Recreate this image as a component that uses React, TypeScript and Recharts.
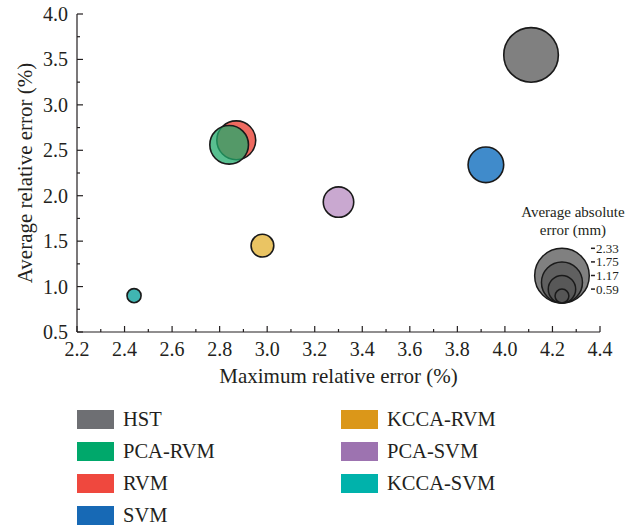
import { Scatter, ScatterChart, XAxis, YAxis, ZAxis } from "recharts";

const FONT = "'Liberation Serif', 'DejaVu Serif', serif";
const INK = "#231f20";

// methods, in legend order
const methods = ["HST", "PCA-RVM", "RVM", "SVM", "KCCA-RVM", "PCA-SVM", "KCCA-SVM"];
const maxRelError = [4.11, 2.84, 2.87, 3.92, 2.98, 3.3, 2.44];
const avgRelError = [3.55, 2.56, 2.61, 2.34, 1.45, 1.93, 0.9];
const avgAbsError = [2.33, 1.65, 1.66, 1.52, 0.97, 1.3, 0.6];

const legendColors = ["#6e6f73", "#00a86b", "#ef483e", "#1769b5", "#db9719", "#9d73b0", "#00b2ab"];
const bubbleColors = ["#555555", "#20a96b", "#e8382b", "#0064b9", "#e3b02f", "#b78bc0", "#009c98"];

// red is drawn under the green one
const drawOrder = ["HST", "RVM", "PCA-RVM", "SVM", "KCCA-RVM", "PCA-SVM", "KCCA-SVM"];

// size key
const sizeKeyValues = [2.33, 1.75, 1.17, 0.59];
const sizeKeyX = 4.24;
const sizeKeyBottom = 0.82;

const xMajor = [2.2, 2.4, 2.6, 2.8, 3.0, 3.2, 3.4, 3.6, 3.8, 4.0, 4.2, 4.4];
const xMinor = [2.3, 2.5, 2.7, 2.9, 3.1, 3.3, 3.5, 3.7, 3.9, 4.1, 4.3];
const yMajor = [0.5, 1.0, 1.5, 2.0, 2.5, 3.0, 3.5, 4.0];
const yMinor = [0.75, 1.25, 1.75, 2.25, 2.75, 3.25, 3.75];

const TICK_GAP = 9;
const isMajor = (list: number[], v: number) => list.some((m) => Math.abs(m - v) < 1e-6);

const YTick = (props: any) => {
  const { x, y, payload } = props;
  const axisX = x + TICK_GAP;
  const major = isMajor(yMajor, payload.value);
  return (
    <g>
      <line x1={axisX} x2={axisX + (major ? 6 : 3)} y1={y} y2={y} stroke={INK} strokeWidth={1.2} />
      {major && (
        <text x={x} y={y} dy="0.35em" textAnchor="end" fill={INK} fontSize={20} fontFamily={FONT}>
          {payload.value.toFixed(1)}
        </text>
      )}
    </g>
  );
};

const XTick = (props: any) => {
  const { x, y, payload } = props;
  const axisY = y - TICK_GAP;
  const major = isMajor(xMajor, payload.value);
  return (
    <g>
      <line x1={x} x2={x} y1={axisY} y2={axisY - (major ? 6 : 3)} stroke={INK} strokeWidth={1.2} />
      {major && (
        <text x={x} y={axisY + 24} textAnchor="middle" fill={INK} fontSize={20} fontFamily={FONT}>
          {payload.value.toFixed(1)}
        </text>
      )}
    </g>
  );
};

// radius grows linearly with the absolute error (ZAxis maps z -> radius here)
const Bubble = (props: any) => {
  const { cx, cy, size, fill } = props;
  return (
    <circle cx={cx} cy={cy} r={size} fill={fill} fillOpacity={0.75} stroke="#1a1a1a" strokeWidth={1.6} />
  );
};

const SizeKeyBubble = (props: any) => {
  const { cx, cy, size, payload, index } = props;
  const top = cy - 2 * size;
  const labelX = cx + 29;
  return (
    <g>
      <circle cx={cx} cy={cy - size} r={size} fill="#555555" fillOpacity={0.75} stroke="#1a1a1a" strokeWidth={1.5} />
      <line x1={labelX} x2={labelX + 4} y1={top} y2={top} stroke={INK} strokeWidth={1.5} />
      <text x={labelX + 5} y={top} dy="0.35em" fill={INK} fontSize={13} fontFamily={FONT}>
        {payload.z.toFixed(2)}
      </text>
      {index === 0 && (
        <text x={cx + 11} y={top - 37} textAnchor="middle" fill={INK} fontSize={15} fontFamily={FONT}>
          <tspan x={cx + 11} dy="0.35em">Average absolute</tspan>
          <tspan x={cx + 11} dy="1.25em">error (mm)</tspan>
        </text>
      )}
    </g>
  );
};

function App() {
  const series = drawOrder.map((name) => {
    const i = methods.indexOf(name);
    return {
      name,
      fill: bubbleColors[i],
      data: [{ x: maxRelError[i], y: avgRelError[i], z: avgAbsError[i] }],
    };
  });
  const sizeKey = sizeKeyValues.map((z) => ({ x: sizeKeyX, y: sizeKeyBottom, z }));

  return (
    <div style={{ position: "absolute", left: 0, top: 0, width: 641, height: 527, background: "#fff", fontFamily: FONT }}>
      <ScatterChart width={641} height={527} margin={{ top: 14, right: 41, bottom: 107, left: 0 }}>
        <XAxis
          type="number"
          dataKey="x"
          domain={[2.2, 4.4]}
          ticks={[...xMajor, ...xMinor].sort((a, b) => a - b)}
          interval={0}
          height={88}
          tickSize={0}
          tickMargin={TICK_GAP}
          tickLine={false}
          tick={<XTick />}
          stroke={INK}
          strokeWidth={1.2}
          label={{
            value: "Maximum relative error (%)",
            position: "center",
            style: { fontFamily: FONT, fontSize: 21, fill: INK },
          }}
        />
        <YAxis
          type="number"
          dataKey="y"
          domain={[0.5, 4.0]}
          ticks={[...yMajor, ...yMinor].sort((a, b) => a - b)}
          interval={0}
          width={77}
          tickSize={0}
          tickMargin={TICK_GAP}
          tickLine={false}
          tick={<YTick />}
          stroke={INK}
          strokeWidth={1.2}
          label={{
            value: "Average relative error (%)",
            angle: -90,
            position: "center",
            dx: -14,
            style: { fontFamily: FONT, fontSize: 21, fill: INK, textAnchor: "middle" },
          }}
        />
        <ZAxis type="number" dataKey="z" domain={[0, 2.33]} range={[0, 27.3]} />
        {series.map((s) => (
          <Scatter
            key={s.name}
            name={s.name}
            data={s.data}
            fill={s.fill}
            shape={<Bubble />}
            isAnimationActive={false}
          />
        ))}
        <Scatter name="size key" data={sizeKey} shape={<SizeKeyBubble />} isAnimationActive={false} />
      </ScatterChart>

      {methods.map((name, i) => {
        const col = i < 4 ? 0 : 1;
        const row = i < 4 ? i : i - 4;
        return (
          <div
            key={name}
            style={{
              position: "absolute",
              left: col ? 341 : 77,
              top: 403.5 + row * 32,
              height: 32,
              display: "flex",
              alignItems: "center",
              fontSize: 20.5,
              color: INK,
            }}
          >
            <div style={{ width: 37, height: 19, background: legendColors[i], marginRight: 9 }} />
            <span>{name}</span>
          </div>
        );
      })}
    </div>
  );
}

export default App;
